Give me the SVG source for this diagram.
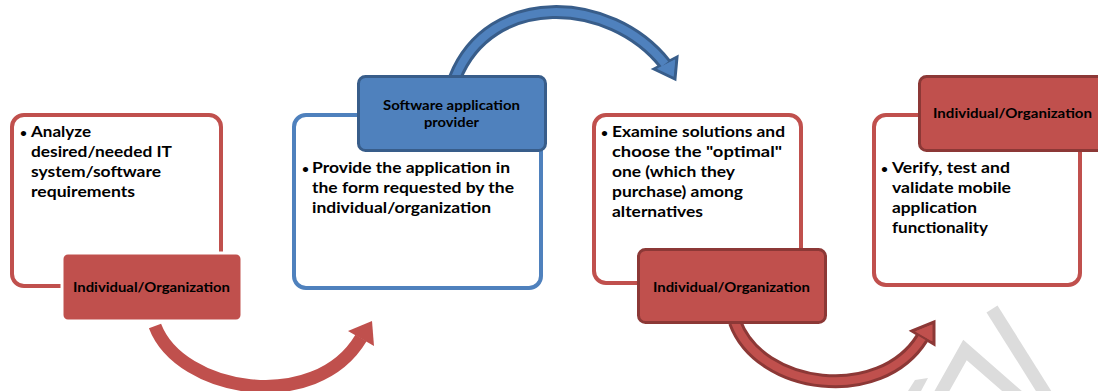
<svg xmlns="http://www.w3.org/2000/svg" width="1098" height="391" viewBox="0 0 1098 391">
  <defs>
    <style>
      .frame-red { fill: #ffffff; stroke: #C0504D; stroke-width: 4; }
      .frame-blue { fill: #ffffff; stroke: #4F81BD; stroke-width: 4; }
      .tag-red { fill: #C0504D; stroke: #8C3836; stroke-width: 3; }
      .tag-flat { fill: #C0504D; stroke: #ffffff; stroke-width: 3; }
      .tag-blue { fill: #4F81BD; stroke: #385D8A; stroke-width: 3; }
      .txt { font-family: Lato, "Liberation Sans", sans-serif; font-weight: 700; fill: #000000; }
      .body { font-size: 14.5px; }
      .dot { font-size: 12px; }
      .tagtxt { font-size: 13px; text-anchor: middle; }
      .band { fill: none; stroke-linecap: butt; }
      .mark { fill: none; stroke: #DCDCDC; stroke-width: 13; stroke-linejoin: miter; }
    </style>
  </defs>

  <!-- background watermark strokes -->
  <g id="watermark">
    <line class="mark" x1="992" y1="309" x2="1048" y2="398"/>
    <polyline class="mark" points="938,398 965,350 1020,398"/>
    <polygon points="915,380 928,378 921,391 908,391" fill="#DCDCDC"/>
  </g>

  <!-- curved arrows between the steps -->
  <g id="connectors">
    <!-- step 1 to step 2: flat red -->
    <g id="arrow-1">
      <path class="band" d="M155,326 C180,392 315,415 361,338" stroke="#C0504D" stroke-width="13"/>
      <polygon points="348,331 372,321 374,346" fill="#C0504D"/>
    </g>
    <!-- step 2 to step 3: outlined blue -->
    <g id="arrow-2">
      <path class="band" d="M455,78 C490,-10 610,-5 665,64" stroke="#385D8A" stroke-width="14"/>
      <polygon points="654,69 677,57 675,79" fill="#4F81BD" stroke="#385D8A" stroke-width="3" stroke-linejoin="miter"/>
      <path class="band" d="M455,78 C490,-10 610,-5 665,64" stroke="#4F81BD" stroke-width="8"/>
      <polygon points="657,68.5 675,59.5 673.5,75" fill="#4F81BD"/>
    </g>
    <!-- step 3 to step 4: outlined red -->
    <g id="arrow-3">
      <path class="band" d="M735,322 C760,390 880,405 922,338" stroke="#8C3836" stroke-width="14"/>
      <polygon points="912,331 934,322 934,344" fill="#C0504D" stroke="#8C3836" stroke-width="3" stroke-linejoin="miter"/>
      <path class="band" d="M735,322 C760,390 880,405 922,338" stroke="#C0504D" stroke-width="8"/>
      <polygon points="915,331.5 931.5,325 931.5,341" fill="#C0504D"/>
    </g>
  </g>

  <!-- step 1 -->
  <g id="step-1">
    <rect class="frame-red" x="12" y="115" width="209" height="171" rx="12"/>
    <text class="txt dot" x="20" y="137">•</text>
    <text class="txt body" x="31" y="137" textLength="60" lengthAdjust="spacingAndGlyphs">Analyze</text>
    <text class="txt body" x="31" y="157" textLength="141" lengthAdjust="spacingAndGlyphs">desired/needed IT</text>
    <text class="txt body" x="31" y="177" textLength="130" lengthAdjust="spacingAndGlyphs">system/software</text>
    <text class="txt body" x="31" y="197" textLength="104" lengthAdjust="spacingAndGlyphs">requirements</text>
    <rect class="tag-flat" x="62" y="253" width="180" height="68" rx="6"/>
    <text class="txt tagtxt" x="151.5" y="292" textLength="157" lengthAdjust="spacingAndGlyphs">Individual/Organization</text>
  </g>

  <!-- step 2 -->
  <g id="step-2">
    <rect class="frame-blue" x="294" y="115" width="247" height="173" rx="12"/>
    <text class="txt dot" x="302" y="173">•</text>
    <text class="txt body" x="312" y="173" textLength="198" lengthAdjust="spacingAndGlyphs">Provide the application in</text>
    <text class="txt body" x="312" y="193" textLength="202" lengthAdjust="spacingAndGlyphs">the form requested by the</text>
    <text class="txt body" x="312" y="213" textLength="179" lengthAdjust="spacingAndGlyphs">individual/organization</text>
    <rect class="tag-blue" x="358.5" y="76.5" width="187" height="74" rx="7"/>
    <text class="txt tagtxt" x="451.5" y="110" textLength="137" lengthAdjust="spacingAndGlyphs">Software application</text>
    <text class="txt tagtxt" x="451.5" y="127" textLength="55" lengthAdjust="spacingAndGlyphs">provider</text>
  </g>

  <!-- step 3 -->
  <g id="step-3">
    <rect class="frame-red" x="594" y="115" width="207" height="168" rx="12"/>
    <text class="txt dot" x="601" y="137">•</text>
    <text class="txt body" x="612" y="137" textLength="173" lengthAdjust="spacingAndGlyphs">Examine solutions and</text>
    <text class="txt body" x="612" y="157" textLength="170" lengthAdjust="spacingAndGlyphs">choose the "optimal"</text>
    <text class="txt body" x="612" y="177" textLength="123" lengthAdjust="spacingAndGlyphs">one (which they</text>
    <text class="txt body" x="612" y="197" textLength="131" lengthAdjust="spacingAndGlyphs">purchase) among</text>
    <text class="txt body" x="612" y="217" textLength="91" lengthAdjust="spacingAndGlyphs">alternatives</text>
    <rect class="tag-red" x="638.5" y="249.5" width="187" height="73" rx="7"/>
    <text class="txt tagtxt" x="731.5" y="292" textLength="157" lengthAdjust="spacingAndGlyphs">Individual/Organization</text>
  </g>

  <!-- step 4 -->
  <g id="step-4">
    <rect class="frame-red" x="874" y="115" width="206" height="170" rx="12"/>
    <text class="txt dot" x="881" y="173">•</text>
    <text class="txt body" x="892" y="173" textLength="118" lengthAdjust="spacingAndGlyphs">Verify, test and</text>
    <text class="txt body" x="892" y="193" textLength="119" lengthAdjust="spacingAndGlyphs">validate mobile</text>
    <text class="txt body" x="892" y="213" textLength="85" lengthAdjust="spacingAndGlyphs">application</text>
    <text class="txt body" x="892" y="233" textLength="96" lengthAdjust="spacingAndGlyphs">functionality</text>
    <rect class="tag-red" x="919.5" y="76.5" width="190" height="74" rx="7"/>
    <text class="txt tagtxt" x="1012.5" y="118" textLength="159" lengthAdjust="spacingAndGlyphs">Individual/Organization</text>
  </g>
</svg>
